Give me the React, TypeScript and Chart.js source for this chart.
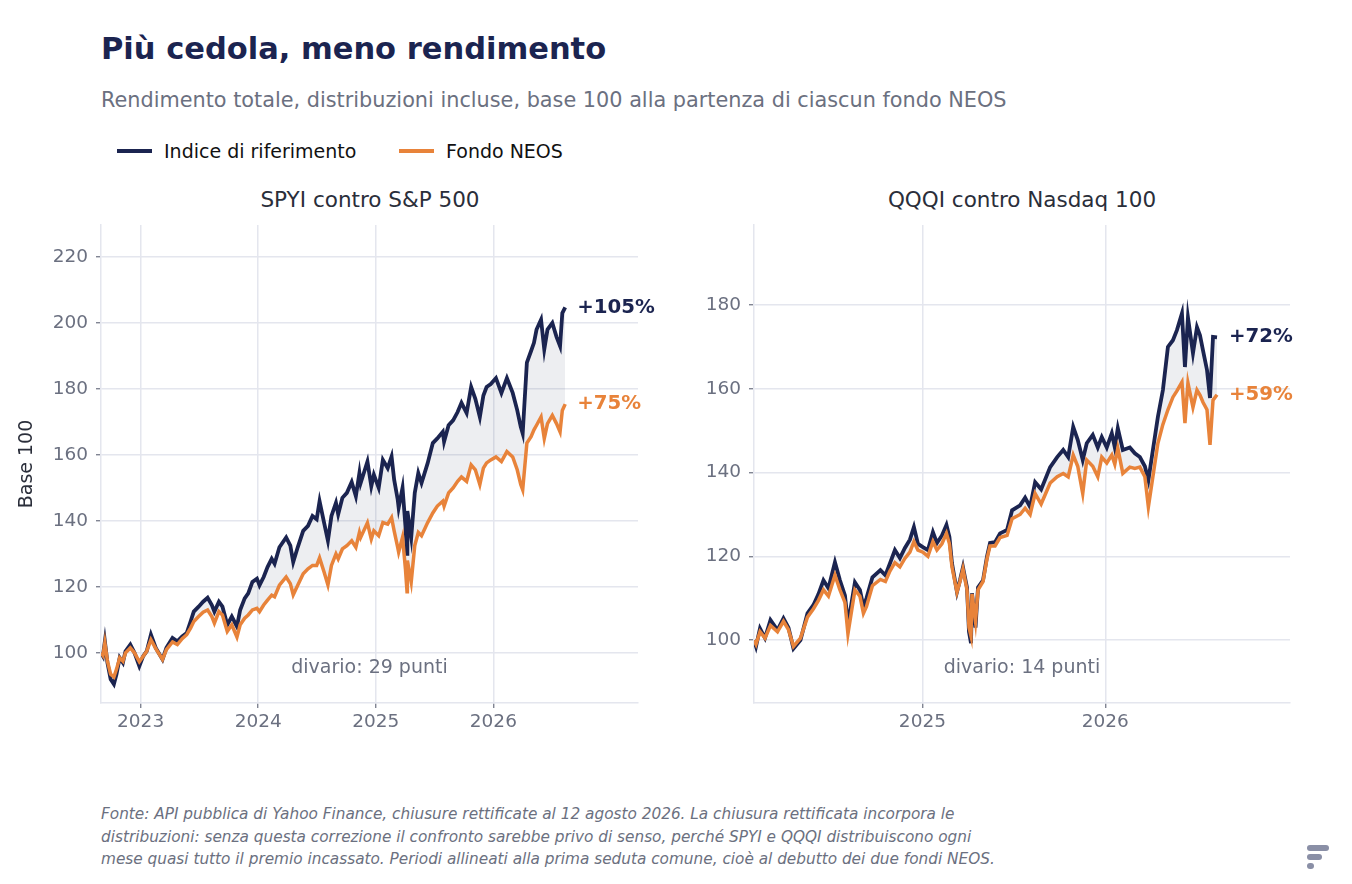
import React, { useEffect, useRef } from 'react';
import { Chart, registerables } from 'chart.js';

Chart.register(...registerables);
Chart.defaults.font.family = '"DejaVu Sans", sans-serif';

// --- SPYI vs S&P 500 (total return, base 100) ---
const L_DATES = [
  '2022-08-31', '2022-09-06', '2022-09-12', '2022-09-20', '2022-09-30', '2022-10-10', '2022-10-18', '2022-10-28',
  '2022-11-07', '2022-11-15', '2022-11-30', '2022-12-13', '2022-12-28', '2023-01-09', '2023-01-20', '2023-02-02',
  '2023-02-17', '2023-03-10', '2023-03-22', '2023-04-10', '2023-04-25', '2023-05-10', '2023-05-24', '2023-06-05',
  '2023-06-15', '2023-06-30', '2023-07-14', '2023-07-28', '2023-08-10', '2023-08-18', '2023-09-01', '2023-09-12',
  '2023-09-27', '2023-10-11', '2023-10-27', '2023-11-06', '2023-11-20', '2023-12-01', '2023-12-14', '2023-12-28',
  '2024-01-05', '2024-01-18', '2024-01-30', '2024-02-12', '2024-02-21', '2024-03-07', '2024-03-28', '2024-04-10',
  '2024-04-19', '2024-05-03', '2024-05-20', '2024-06-04', '2024-06-18', '2024-07-01', '2024-07-10', '2024-07-24',
  '2024-08-05', '2024-08-16', '2024-08-30', '2024-09-06', '2024-09-19', '2024-10-03', '2024-10-18', '2024-10-31',
  '2024-11-11', '2024-11-15', '2024-12-06', '2024-12-18', '2024-12-26', '2025-01-10', '2025-01-23', '2025-02-07',
  '2025-02-19', '2025-02-27', '2025-03-10', '2025-03-13', '2025-03-25', '2025-04-03', '2025-04-08', '2025-04-09',
  '2025-04-21', '2025-05-02', '2025-05-13', '2025-05-23', '2025-06-11', '2025-06-27', '2025-07-11', '2025-07-28',
  '2025-08-01', '2025-08-15', '2025-08-29', '2025-09-12', '2025-09-24', '2025-10-10', '2025-10-24', '2025-11-06',
  '2025-11-20', '2025-12-01', '2025-12-11', '2025-12-24', '2026-01-09', '2026-01-26', '2026-02-12', '2026-03-02',
  '2026-03-16', '2026-03-27', '2026-04-02', '2026-04-15', '2026-04-28', '2026-05-07', '2026-05-15', '2026-05-29',
  '2026-06-08', '2026-06-18', '2026-07-03', '2026-07-16', '2026-07-27', '2026-08-03', '2026-08-12',
];
const L_INDEX = [
  100, 99, 103.5, 97, 92, 90.5, 93.5, 98.5,
  97, 100.5, 102.5, 100, 96, 99, 100.5, 105.5,
  101.5, 98, 101.5, 104.5, 103.5, 105, 106, 109.5,
  112.5, 114, 115.5, 116.7, 114.5, 112.5, 115.5, 114,
  108.5, 111, 108, 113, 116.5, 118, 121.5, 122.5,
  120.5, 123, 126, 128.5, 127, 132, 135, 132.5,
  127.5, 132, 137, 138.5, 141.5, 140.5, 146, 139.5,
  134, 141.5, 145.5, 142, 147, 148.5, 151.8, 147.5,
  154.5, 151.5, 158, 150.5, 154, 150, 158.5, 156,
  159.5, 152.5, 146.5, 144, 150, 138.5, 130, 143,
  135, 148.5, 154.5, 151.5, 157.5, 163.6, 165, 167,
  164, 169, 170.5, 173, 175.8, 172.7, 180.6, 177,
  171.5, 178, 180.6, 181.5, 183.3, 178.8, 183.3, 178.8,
  173.6, 168.5, 166.5, 188, 191.5, 194, 198, 201,
  192, 198, 200, 195.8, 193, 203, 204.7,
];
const L_FUND = [
  100, 99.2, 103, 97.5, 93.5, 92.7, 95, 98.5,
  97.5, 100, 101.5, 100, 97.3, 99, 100.5, 104,
  101.3, 98, 101, 103.3, 102.5, 104.3, 105.5, 107.5,
  109.5, 111, 112.3, 113, 111, 109, 112.5, 111.5,
  106.5, 108.5, 104.8, 108.5, 110.5, 111.5, 113, 113.5,
  112.5, 114.5, 116, 117.5, 117, 120.5, 123, 121,
  117.6, 120.5, 124, 125.5, 126.5, 126.5, 128.8, 124.5,
  120.6, 126.5, 130, 128.5, 131.5, 132.5, 134, 132,
  136.5, 135, 139.4, 134.5, 137, 135.5, 139.5, 139,
  141, 137, 132, 130.5, 135, 125.5, 118.5, 128,
  121.5, 132.5, 136.5, 135.5, 139.5, 142.4, 144.5, 146,
  144.5, 148.5, 150, 152, 153.3, 152, 157, 155.5,
  151, 156, 157.6, 158.5, 159.4, 158, 161, 159.4,
  155.5, 151, 149.4, 163.6, 165.5, 167.6, 169, 171.5,
  165, 169.5, 172, 169.5, 167, 173.5, 175.4,
];

// --- QQQI vs Nasdaq 100 (total return, base 100) ---
const R_DATES = [
  '2024-01-30', '2024-02-03', '2024-02-11', '2024-02-21', '2024-03-03', '2024-03-17', '2024-03-29', '2024-04-08',
  '2024-04-18', '2024-05-02', '2024-05-16', '2024-05-28', '2024-06-07', '2024-06-17', '2024-06-27', '2024-07-10',
  '2024-07-20', '2024-07-30', '2024-08-05', '2024-08-11', '2024-08-19', '2024-08-29', '2024-09-05', '2024-09-11',
  '2024-09-23', '2024-10-09', '2024-10-19', '2024-10-28', '2024-11-07', '2024-11-17', '2024-11-27', '2024-12-07',
  '2024-12-15', '2024-12-23', '2025-01-02', '2025-01-12', '2025-01-22', '2025-01-30', '2025-02-09', '2025-02-18',
  '2025-02-24', '2025-03-01', '2025-03-11', '2025-03-17', '2025-03-23', '2025-03-31', '2025-04-04', '2025-04-08',
  '2025-04-10', '2025-04-17', '2025-04-22', '2025-05-02', '2025-05-10', '2025-05-16', '2025-05-26', '2025-06-05',
  '2025-06-19', '2025-06-29', '2025-07-15', '2025-07-25', '2025-08-04', '2025-08-14', '2025-08-26', '2025-09-13',
  '2025-09-27', '2025-10-09', '2025-10-19', '2025-10-29', '2025-11-07', '2025-11-17', '2025-11-25', '2025-12-07',
  '2025-12-17', '2025-12-25', '2026-01-04', '2026-01-14', '2026-01-20', '2026-01-26', '2026-02-05', '2026-02-19',
  '2026-03-01', '2026-03-11', '2026-03-21', '2026-03-28', '2026-04-06', '2026-04-16', '2026-04-26', '2026-05-06',
  '2026-05-16', '2026-05-24', '2026-06-03', '2026-06-09', '2026-06-15', '2026-06-25', '2026-07-03', '2026-07-09',
  '2026-07-15', '2026-07-23', '2026-07-29', '2026-08-04', '2026-08-12',
];
const R_INDEX = [
  100, 98.5, 102.8, 100.5, 104.8, 102.4, 105.2, 103,
  98, 100, 106.4, 108.4, 111, 114.3, 112.4, 118.6,
  114.3, 110.7, 104, 108, 113.8, 112, 108, 110,
  115, 116.7, 115.5, 118.3, 121.5, 119.6, 122, 124,
  127, 123, 122.2, 121.5, 125.8, 123.2, 125, 127.5,
  124.6, 118.4, 111.5, 114.3, 117.4, 112.6, 102, 99.3,
  111.2, 103, 112.6, 114.3, 120, 123.2, 123.4, 125.5,
  126.3, 131, 132.2, 134, 131.8, 137.7, 136, 141.3,
  143.7, 145.4, 143.7, 150.9, 147.8, 143, 147, 149,
  146, 148.5, 146, 149.4, 146, 150.6, 145.4, 146,
  144.6, 143.7, 141.5, 138.2, 145.4, 153.3, 159.7, 170,
  171.6, 174, 178, 165.2, 177, 168.5, 174.7, 172.8,
  169.2, 164.5, 157.8, 172.4, 172.3,
];
const R_FUND = [
  100, 99, 102, 100.5, 103.5, 102, 104.5, 102.5,
  98.5, 100.5, 105.5, 107.5, 109.5, 112, 110.5, 115.5,
  112, 109, 101.5, 106, 112, 110.5, 106.4, 108,
  113, 114.5, 114, 116.5, 118.5, 117.5, 119.5, 121,
  123.5, 121.5, 121, 120, 123.5, 121.5, 123, 125.5,
  123, 117.5, 111.5, 114, 117, 112, 103, 101,
  111, 104.5, 112, 114, 119.5, 122.5, 122.5, 124.5,
  125, 129, 130, 131.5, 130, 135, 132.5, 137.5,
  139, 139.8, 139, 144.2, 141.5, 135, 143, 141.5,
  139, 143.7, 142.3, 144.2, 142, 145.8, 139.8, 141.3,
  141, 141.3, 139, 131.8, 139, 147, 151.5, 155,
  158, 159.5, 161.6, 151.8, 161.4, 155.6, 159.7, 158.5,
  156.8, 155, 146.6, 157.3, 158.6,
];

const L_Y_TICKS = [100, 120, 140, 160, 180, 200, 220];
const R_Y_TICKS = [100, 120, 140, 160, 180];
const L_X_TICKS = [2023, 2024, 2025, 2026];
const R_X_TICKS = [2025, 2026];

const NAVY = '#1b2450';
const ORANGE = '#e8833a';
const GRAY = '#6b7080';
const GRID = '#e4e6ee';

const toYear = (s: string) => {
  const [y, m, d] = s.split('-').map(Number);
  const a = Date.UTC(y, 0, 1);
  const b = Date.UTC(y + 1, 0, 1);
  return y + (Date.UTC(y, m - 1, d) - a) / (b - a);
};

const endLabels = {
  id: 'endLabels',
  afterDatasetsDraw(chart: any) {
    const { ctx, chartArea } = chart;
    const m0 = chart.getDatasetMeta(0);
    const m1 = chart.getDatasetMeta(1);
    const d0 = chart.data.datasets[0].data;
    const d1 = chart.data.datasets[1].data;
    const v0 = d0[d0.length - 1].y;
    const v1 = d1[d1.length - 1].y;
    const p0 = m0.data[m0.data.length - 1];
    const p1 = m1.data[m1.data.length - 1];
    ctx.save();
    ctx.textBaseline = 'middle';
    ctx.textAlign = 'left';
    ctx.font = 'bold 19.8px "DejaVu Sans"';
    ctx.fillStyle = NAVY;
    ctx.fillText(`+${Math.round(v0 - 100)}%`, p0.x + 12, p0.y);
    ctx.fillStyle = ORANGE;
    ctx.fillText(`+${Math.round(v1 - 100)}%`, p1.x + 12, p1.y);
    ctx.font = '19px "DejaVu Sans"';
    ctx.fillStyle = GRAY;
    ctx.textAlign = 'center';
    ctx.fillText(`divario: ${Math.round(v0 - v1)} punti`, (chartArea.left + chartArea.right) / 2, chartArea.bottom - 35);
    ctx.restore();
  },
};

interface PanelProps {
  dates: string[];
  index: number[];
  fund: number[];
  yMin: number;
  yMax: number;
  yTicks: number[];
  xTicks: number[];
  xMax: number;
  axisWidth: number;
  padRight: number;
  yTitle?: string;
  left: number;
  width: number;
}

const Panel: React.FC<PanelProps> = (p) => {
  const ref = useRef<HTMLCanvasElement>(null);

  useEffect(() => {
    if (!ref.current) return;
    const xs = p.dates.map(toYear);
    const chart = new Chart(ref.current, {
      type: 'line',
      data: {
        datasets: [
          {
            label: 'Indice di riferimento',
            data: xs.map((x, i) => ({ x, y: p.index[i] })),
            borderColor: NAVY,
            borderWidth: 3.8,
            pointRadius: 0,
            tension: 0,
            fill: 1,
            backgroundColor: 'rgba(27, 36, 80, 0.08)',
            order: 2,
          },
          {
            label: 'Fondo NEOS',
            data: xs.map((x, i) => ({ x, y: p.fund[i] })),
            borderColor: ORANGE,
            borderWidth: 3.5,
            pointRadius: 0,
            tension: 0,
            fill: false,
            order: 1,
          },
        ],
      },
      options: {
        animation: false,
        responsive: false,
        layout: { padding: { top: 20, right: p.padRight, left: 0, bottom: 0 } },
        plugins: {
          legend: { display: false },
          tooltip: { enabled: false },
        },
        scales: {
          x: {
            type: 'linear',
            min: xs[0],
            max: p.xMax,
            afterBuildTicks: (s: any) => { s.ticks = p.xTicks.map((v) => ({ value: v })); },
            afterFit: (s: any) => { s.height = 40; },
            ticks: {
              color: GRAY,
              font: { size: 18.5 },
              padding: 3,
              autoSkip: false,
              maxRotation: 0,
              callback: (v: any) => String(v),
            },
            grid: { color: GRID, lineWidth: 1.5, tickLength: 5, tickColor: GRAY, tickWidth: 1.2 },
            border: { color: GRID, width: 1.5 },
          },
          y: {
            type: 'linear',
            min: p.yMin,
            max: p.yMax,
            afterBuildTicks: (s: any) => { s.ticks = p.yTicks.map((v) => ({ value: v })); },
            afterFit: (s: any) => { s.width = p.axisWidth; },
            ticks: { color: GRAY, font: { size: 18.5 }, padding: 8 },
            grid: { color: GRID, lineWidth: 1.5, tickLength: 5, tickColor: GRAY, tickWidth: 1.2 },
            border: { color: GRID, width: 1.5 },
            title: {
              display: !!p.yTitle,
              text: p.yTitle || '',
              color: '#2a2e3a',
              font: { size: 19 },
              padding: { top: 16, bottom: 0 },
            },
          },
        },
      },
      plugins: [endLabels],
    });
    return () => chart.destroy();
  }, []);

  return (
    <canvas
      ref={ref}
      width={p.width}
      height={538}
      style={{ position: 'absolute', left: p.left, top: 205, width: p.width, height: 538 }}
    />
  );
};

const txt: React.CSSProperties = { position: 'absolute', whiteSpace: 'nowrap', fontFamily: '"DejaVu Sans", sans-serif' };

const LegendItem: React.FC<{ color: string; label: string; left: number }> = ({ color, label, left }) => (
  <div style={{ ...txt, left, top: 140, height: 22, display: 'flex', alignItems: 'center' }}>
    <div style={{ width: 35, height: 3.8, background: color, marginRight: 12 }} />
    <span style={{ fontSize: 19, color: '#111' }}>{label}</span>
  </div>
);

export default function App() {
  return (
    <div style={{ position: 'absolute', left: 0, top: 0, width: 1352, height: 884, background: '#fff', overflow: 'hidden' }}>
      <div style={{ ...txt, left: 101, top: 31, fontSize: 30.5, lineHeight: '36px', fontWeight: 'bold', color: NAVY }}>
        Più cedola, meno rendimento
      </div>
      <div style={{ ...txt, left: 101, top: 87, fontSize: 20.8, lineHeight: '26px', color: GRAY }}>
        Rendimento totale, distribuzioni incluse, base 100 alla partenza di ciascun fondo NEOS
      </div>
      <LegendItem color={NAVY} label="Indice di riferimento" left={117} />
      <LegendItem color={ORANGE} label="Fondo NEOS" left={399} />
      <div style={{ ...txt, left: 370, top: 187, transform: 'translateX(-50%)', fontSize: 21.5, lineHeight: '26px', color: '#2a2e3a' }}>
        SPYI contro S&amp;P 500
      </div>
      <div style={{ ...txt, left: 1022, top: 187, transform: 'translateX(-50%)', fontSize: 21.5, lineHeight: '26px', color: '#2a2e3a' }}>
        QQQI contro Nasdaq 100
      </div>
      <Panel
        dates={L_DATES} index={L_INDEX} fund={L_FUND}
        yMin={84.8} yMax={229.7} yTicks={L_Y_TICKS} xTicks={L_X_TICKS} xMax={2027.23}
        axisWidth={101} padRight={42} yTitle="Base 100" left={0} width={680}
      />
      <Panel
        dates={R_DATES} index={R_INDEX} fund={R_FUND}
        yMin={85} yMax={199.1} yTicks={R_Y_TICKS} xTicks={R_X_TICKS} xMax={2027.01}
        axisWidth={74} padRight={62} left={680} width={672}
      />
      <div style={{ ...txt, left: 101, top: 803, fontSize: 15.3, lineHeight: '22.5px', fontStyle: 'italic', color: GRAY }}>
        <div>Fonte: API pubblica di Yahoo Finance, chiusure rettificate al 12 agosto 2026. La chiusura rettificata incorpora le</div>
        <div>distribuzioni: senza questa correzione il confronto sarebbe privo di senso, perché SPYI e QQQI distribuiscono ogni</div>
        <div>mese quasi tutto il premio incassato. Periodi allineati alla prima seduta comune, cioè al debutto dei due fondi NEOS.</div>
      </div>
      <div style={{ position: 'absolute', left: 1307, top: 845, width: 22, height: 6, borderRadius: 3, background: '#8a8fa6' }} />
      <div style={{ position: 'absolute', left: 1307, top: 854, width: 15, height: 6, borderRadius: 3, background: '#8a8fa6' }} />
      <div style={{ position: 'absolute', left: 1307, top: 863, width: 7, height: 6, borderRadius: 3, background: '#8a8fa6' }} />
    </div>
  );
}
